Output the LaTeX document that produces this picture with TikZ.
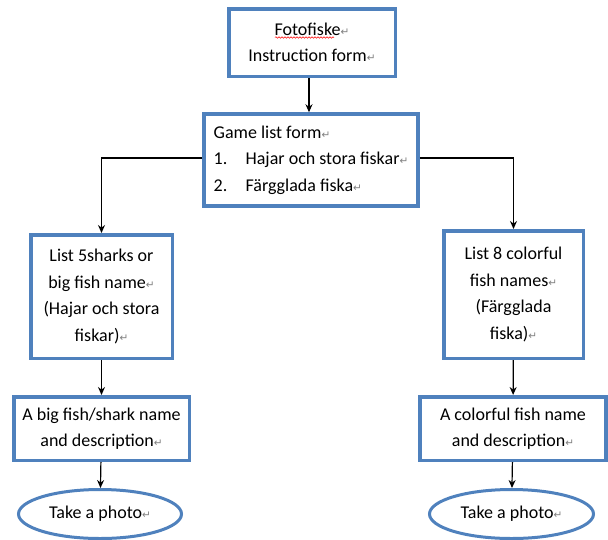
\documentclass[tikz,border=0pt]{standalone}
\usepackage{fontspec}
\setmainfont{Carlito}
\newfontfamily\retfont{DejaVu Sans}
\usetikzlibrary{shapes.geometric,decorations.pathmorphing,arrows.meta}
\definecolor{wordblue}{RGB}{79,129,189}
\newcommand{\ret}{{\retfont\color{gray}\fontsize{10.5}{10.5}\selectfont ↵}}
\newcommand{\numitem}[1]{\makebox[32pt][l]{#1}}

\begin{document}
\begin{tikzpicture}[x=1pt,y=-1pt,>={Stealth[length=8pt,width=7pt]},font=\fontsize{18}{26.5}\selectfont,
		box/.style={draw=wordblue,line width=3.5pt,fill=white,align=center,inner sep=0pt},
		oval/.style={draw=wordblue,line width=3pt,ellipse,fill=white,inner sep=0pt}]
			\useasboundingbox (0,0) rectangle (608,539);
			\node[box,minimum width=166.5,minimum height=67.5] (intro) at (312,42.5) {Fotofiske\ret\\Instruction form\ret};
			\node[box,align=left,minimum width=214,minimum height=92] (list) at (311,160) {Game list form\ret\\\numitem{1.}Hajar och stora fiskar\ret\\\numitem{2.}Färgglada fiska\ret};
			\node[box,minimum width=141.5,minimum height=123.5] (sharks) at (101.5,296.5) {List 5sharks or\\ big fish name\ret\\(Hajar och stora\\ fiskar)\ret};
			\node[box,minimum width=139.5,minimum height=127.5] (colour) at (513.5,294.5) {List 8 colorful\\ fish names\ret\\(Färgglada\\ fiska)\ret};
			\node[box,minimum width=175.5,minimum height=63.5] (bigfish) at (101.5,428.5) {A big fish/shark name\\ and description\ret};
			\node[box,minimum width=186,minimum height=63.5] (colfish) at (513,428.5) {A colorful fish name\\ and description\ret};
			\node[oval,minimum width=163,minimum height=49] (photoA) at (100,514) {Take a photo\ret};
			\node[oval,minimum width=164,minimum height=49] (photoB) at (511.5,514) {Take a photo\ret};
			\draw[red,line width=0.5pt,decorate,decoration={snake,amplitude=0.8pt,segment length=3pt}] (275,37.5)--(334,37.5);
			\draw[->,line width=1.2pt] ([xshift=-3pt]intro.south)--([xshift=-3pt]intro.south|-list.north);
			\draw[->,line width=1.2pt] ([yshift=2pt]list.west)-|(sharks);
			\draw[->,line width=1.2pt] ([yshift=2pt]list.east)-|(colour);
			\draw[->,line width=1.2pt] (sharks)--(bigfish);
			\draw[->,line width=1.2pt] (colour)--(colfish);
			\draw[->,line width=1.2pt] (bigfish)--(photoA);
			\draw[->,line width=1.2pt] (colfish)--(photoB);
\end{tikzpicture}
\end{document}
